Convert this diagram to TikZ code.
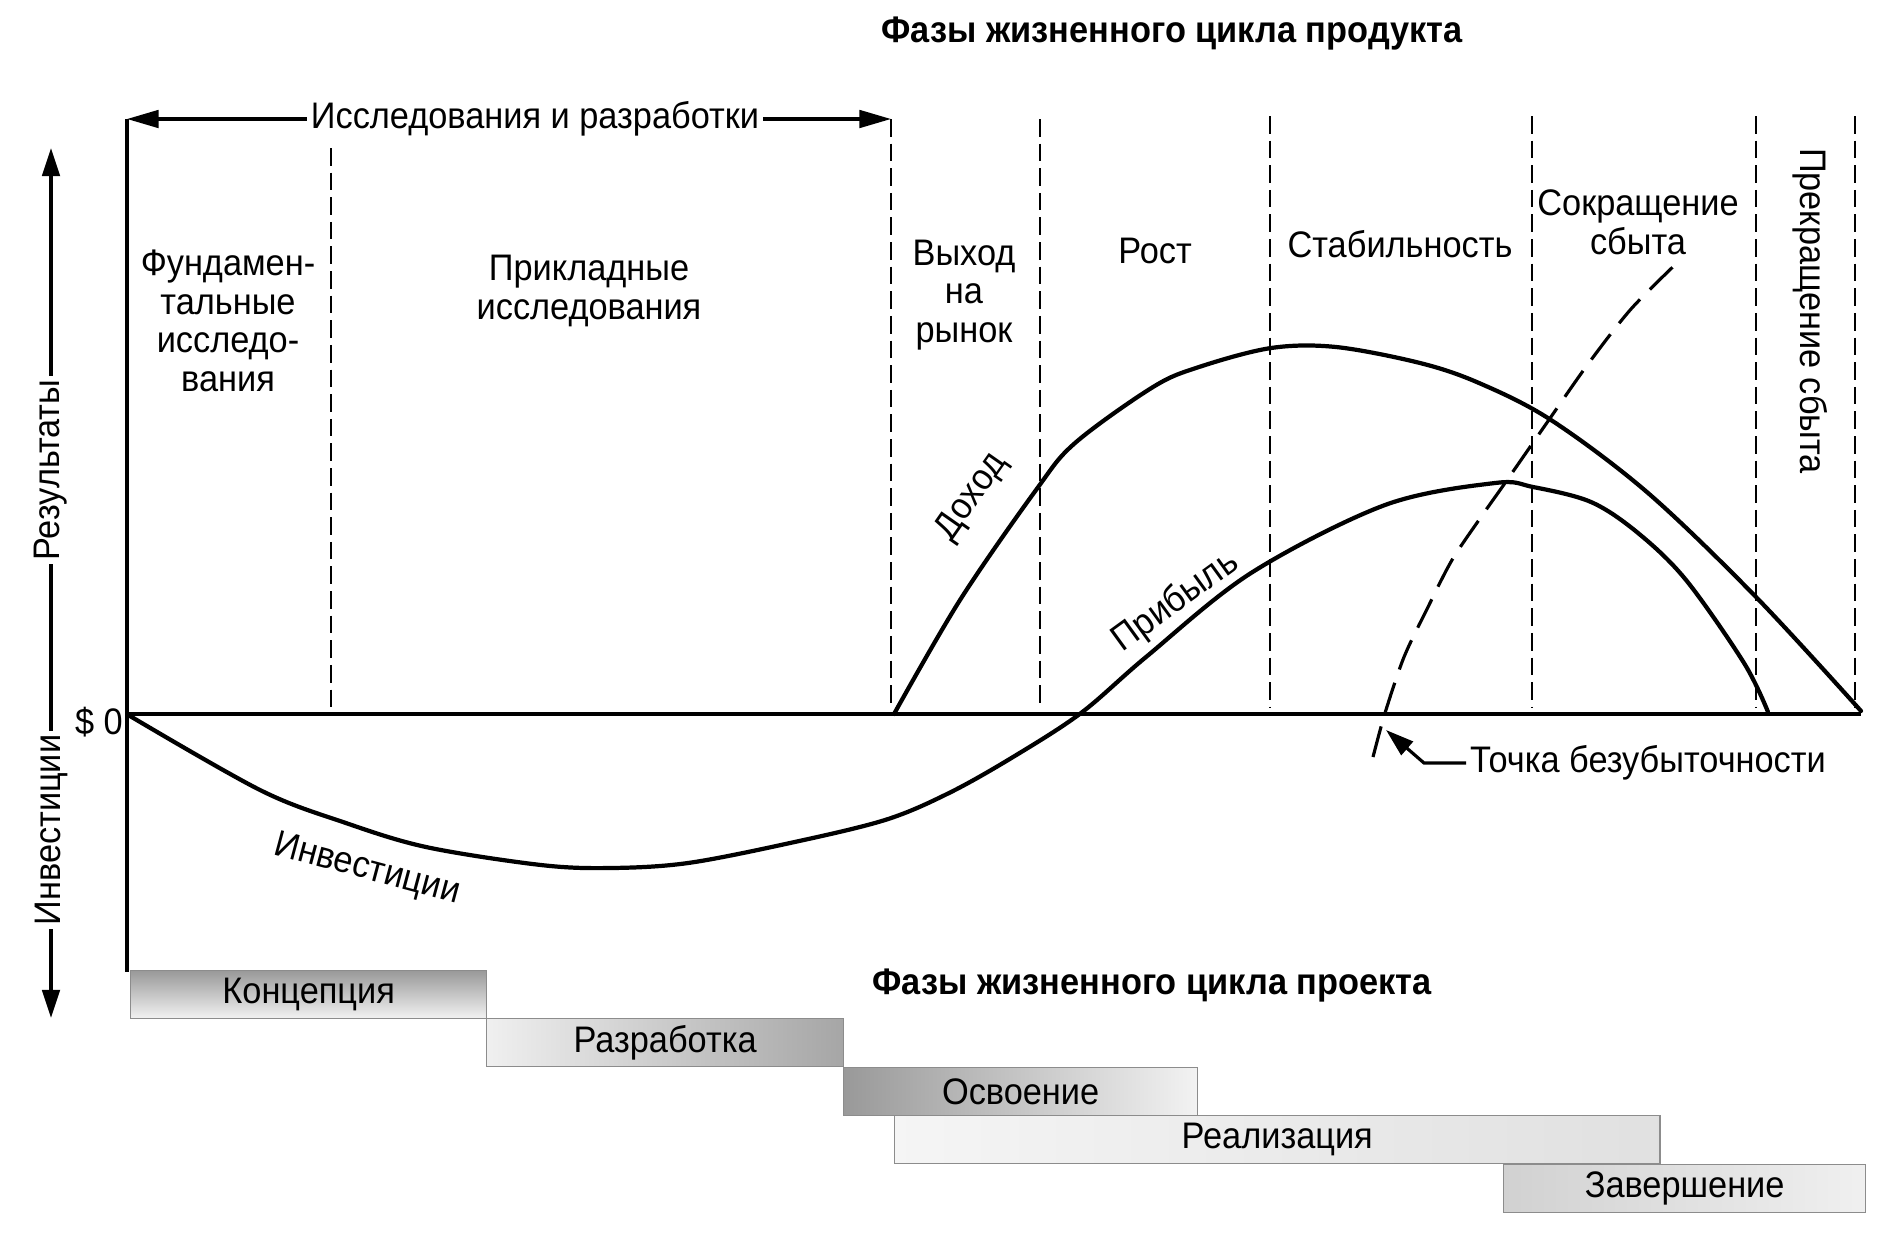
\documentclass[tikz,border=0pt]{standalone}
\usepackage{fontspec}
\setmainfont{Liberation Sans}[FakeStretch=0.93]
\usetikzlibrary{arrows.meta, positioning, calc}

\begin{document}
\begin{tikzpicture}[
  x=0.01cm, y=-0.01cm,
  font=\fontsize{10.5}{11}\selectfont,
  lbl/.style={align=center, inner sep=1pt},
  title/.style={font=\fontsize{10.5}{11}\selectfont\bfseries},
  phase/.style={dash pattern=on 5pt off 2pt, line width=0.7pt},
  curve/.style={line width=1.2pt, line join=round, line cap=round},
  axis/.style={line width=1.1pt},
  tip/.style={-{Triangle[length=8pt,width=5pt]}},
  bar/.style={draw=black!45, line width=0.3pt, minimum height=0.48cm,
              anchor=north west, inner sep=0pt},
]
  \useasboundingbox (0,0) rectangle (1901,1242);

  % заголовки
  \node[title] (ptitle) at (1172,34) {Фазы жизненного цикла продукта};
  \node[title] (ttitle) at (1152,986) {Фазы жизненного цикла проекта};

  % оси
  \draw[axis] (127,119) -- (127,972);
  \draw[axis] (127,714) -- (1861,714);
  \coordinate (axtop) at (51,148);
  \coordinate (axbot) at (51,1018);
  \draw[line width=0.9pt, {Triangle[length=8pt,width=5pt]}-{Triangle[length=8pt,width=5pt]}] (axtop) -- (axbot);
  \node[lbl, fill=white, rotate=90] (res) at (51,470) {Результаты};
  \node[lbl, fill=white, rotate=90] (inv) at (51,830) {Инвестиции};
  \node[lbl] (zero) at (99,722) {\$ 0};

  % исследования и разработки
  \coordinate (rdl) at (127,119);
  \coordinate (rdr) at (891,119);
  \draw[line width=0.9pt, {Triangle[length=9pt,width=5pt]}-{Triangle[length=9pt,width=5pt]}] (rdl) -- (rdr);
  \node[lbl, fill=white] (rd) at (535,119) {Исследования и разработки};

  % границы фаз
  \foreach \x/\ya in {331/148, 891/119, 1040/119, 1270/116, 1532/116, 1756/116, 1855/116}
    \draw[phase] (\x,\ya) -- (\x,708);

  % фазы продукта
  \node[lbl] (fund) at (228,321) {Фундамен-\\тальные\\исследо-\\вания};
  \node[lbl] (prikl) at (589,291) {Прикладные\\исследования};
  \node[lbl] (vyhod) at (964,295) {Выход\\на\\рынок};
  \node[lbl] (rost) at (1155,251) {Рост};
  \node[lbl] (stab) at (1400,244) {Стабильность};
  \node[lbl] (sokr) at (1638,222) {Сокращение\\сбыта};
  \node[lbl, rotate=-90] (prekr) at (1810,311) {Прекращение сбыта};

  % кривые
  \draw[curve] plot[smooth, tension=0.55] coordinates {(894,714) (960,600) (1036,490)
    (1075,443) (1153,387) (1199,367) (1271,348) (1336,347) (1420,363) (1479,383)
    (1551,420) (1648,493) (1756,597) (1861,711)};
  \draw[curve] plot[smooth, tension=0.55] coordinates {(130,716) (260,790) (343,822)
    (426,847) (541,865) (611,868) (688,863) (790,843) (885,820) (949,793) (1013,757)
    (1081,713) (1146,657) (1251,573) (1385,505) (1495,483) (1533,487) (1591,502)
    (1638,533) (1686,580) (1744,663) (1768,712)};
  \draw[dash pattern=on 9pt off 4pt, line width=0.9pt] plot[smooth, tension=0.5] coordinates {(1373,757)
    (1385,713) (1404,657) (1428,607) (1452,560) (1481,517) (1505,483) (1546,424)
    (1588,364) (1631,309) (1679,261)};

  \node[lbl, rotate=55] (dohod) at (972,497) {Доход};
  \node[lbl, rotate=36] (prib) at (1176,602) {Прибыль};
  \node[lbl, rotate=-15] (invc) at (367,870) {Инвестиции};

  % точка безубыточности
  \coordinate (be) at (1386,730);
  \node[lbl, anchor=west] (tochka) at (1466,763) {Точка безубыточности};
  \draw[line width=0.9pt, tip] (tochka.west) -- ++(-42,0) -- (be);

  % фазы проекта
  \node[bar, minimum width=3.56cm, top color=black!40, bottom color=black!5]
    (konc) at (130,970) {Концепция};
  \node[bar, minimum width=3.57cm, left color=black!6, right color=black!35]
    (razr) at (486,1018) {Разработка};
  \node[bar, minimum width=3.54cm, left color=black!40, right color=black!5]
    (osv) at (843,1067) {Освоение};
  \node[bar, minimum width=7.65cm, left color=black!4, right color=black!12]
    (real) at (894,1115) {Реализация};
  \node[bar, minimum width=3.62cm, left color=black!18, right color=black!6]
    (zav) at (1503,1164) {Завершение};
\end{tikzpicture}
\end{document}
